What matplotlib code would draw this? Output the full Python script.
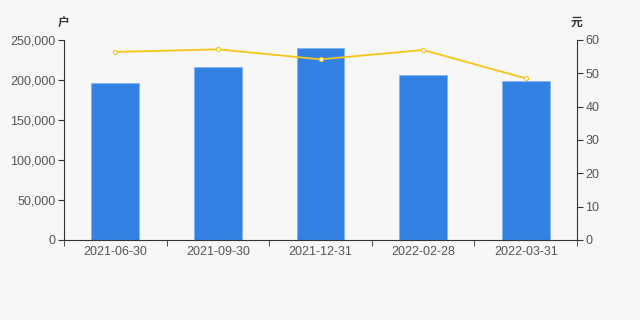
import numpy as np
import matplotlib
matplotlib.use('Agg')
import matplotlib.pyplot as plt
from matplotlib.ticker import FuncFormatter

plt.rcParams['font.family'] = ['Liberation Sans', 'Noto Sans CJK SC']

dates = ['2021-06-30', '2021-09-30', '2021-12-31', '2022-02-28', '2022-03-31']
holders = [196600, 215800, 240400, 206700, 198300]
price = [56.4, 57.2, 54.2, 57.0, 48.5]

bg = '#f7f7f7'
axis_color = '#333333'
text_color = '#555555'

fig = plt.figure(figsize=(6.4, 3.2), dpi=100, facecolor=bg)
ax = fig.add_axes([64/640, 1 - 240/320, (577-64)/640, 200/320])
ax.set_facecolor(bg)
ax2 = ax.twinx()

x = np.arange(len(dates))
ax.bar(x, holders, width=0.465, color='#3381e3', edgecolor='#7fb6f0', linewidth=0.6, zorder=2)
ax.set_xlim(-0.5, len(dates) - 0.5)
ax.set_ylim(0, 250000)
ax.set_yticks(np.arange(0, 250001, 50000))
ax.yaxis.set_major_formatter(FuncFormatter(lambda v, p: f'{int(v):,}'))
ax.set_xticks(x)
ax.set_xticklabels(dates)
ax.set_xticks(np.arange(-0.5, len(dates)), minor=True)
ax.tick_params(axis='x', which='major', length=0, colors=text_color, labelsize=9, pad=4)
ax.tick_params(axis='x', which='minor', length=4, color=axis_color, direction='out')
ax.tick_params(axis='y', length=4, color=axis_color, labelcolor=text_color, labelsize=9, pad=2)

ax2.plot(x, price, color='#f5c518', linewidth=1.3, marker='o', markersize=3,
         markerfacecolor='white', markeredgecolor='#f5c518', markeredgewidth=0.8, zorder=3)
ax2.set_ylim(0, 60)
ax2.set_yticks(np.arange(0, 61, 10))
ax2.tick_params(axis='y', length=4, color=axis_color, labelcolor=text_color, labelsize=9, pad=2)

for a in (ax, ax2):
    a.spines['top'].set_visible(False)
    a.spines['left'].set_color(axis_color)
    a.spines['right'].set_color(axis_color)
    a.spines['bottom'].set_color(axis_color)
ax.spines['right'].set_visible(False)
ax2.spines['left'].set_visible(False)
ax2.spines['bottom'].set_visible(False)

fig.text(64/640, 1 - 22/320, '户', fontsize=8.5, color=axis_color, ha='center', va='center',
         fontweight='bold', family=['Noto Sans CJK SC'])
fig.text(577/640, 1 - 22/320, '元', fontsize=8.5, color=axis_color, ha='center', va='center',
         fontweight='bold', family=['Noto Sans CJK SC'])

fig.savefig('out.png', dpi=100, facecolor=bg)
